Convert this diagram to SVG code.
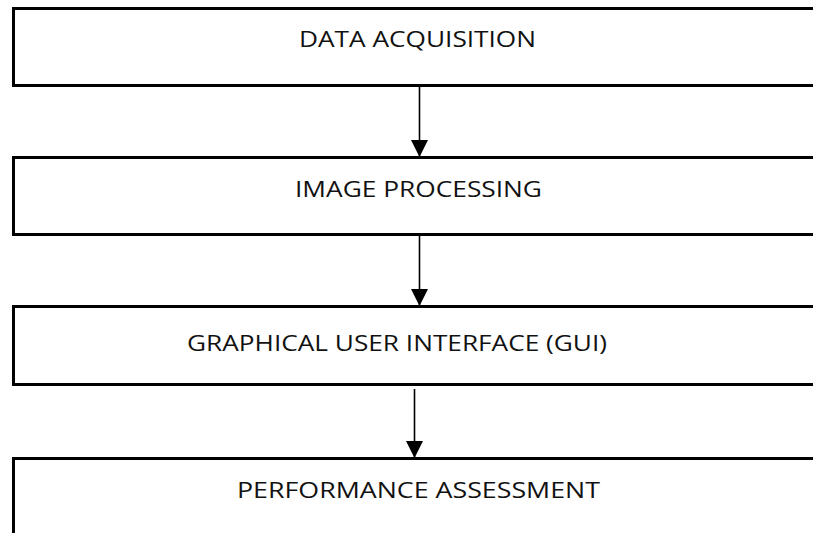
<svg xmlns="http://www.w3.org/2000/svg" width="813" height="533" viewBox="0 0 813 533">
<style>
.box{fill:#fff;stroke:#000;stroke-width:3}
.lbl{font-family:"Open Sans","Liberation Sans",sans-serif;font-size:22px;fill:#111}
.conn{stroke:#000;stroke-width:1.6;fill:none}
</style>
<defs>
<marker id="ah" markerUnits="userSpaceOnUse" markerWidth="18" markerHeight="17" refX="17" refY="8.5" orient="auto">
<path d="M0,0 L17,8.5 L0,17 Z" fill="#000"/>
</marker>
</defs>
<rect width="813" height="533" fill="#fff"/>
<g id="n1"><rect class="box" x="13.5" y="8.5" width="820" height="77"/><text class="lbl" x="299" y="47" textLength="237" lengthAdjust="spacingAndGlyphs">DATA ACQUISITION</text></g>
<g id="n2"><rect class="box" x="13.5" y="157.5" width="820" height="77"/><text class="lbl" x="295" y="197" textLength="247" lengthAdjust="spacingAndGlyphs">IMAGE PROCESSING</text></g>
<g id="n3"><rect class="box" x="13.5" y="306.5" width="820" height="78"/><text class="lbl" x="187" y="351" textLength="420" lengthAdjust="spacingAndGlyphs">GRAPHICAL USER INTERFACE (GUI)</text></g>
<g id="n4"><rect class="box" x="13.5" y="458.5" width="820" height="100"/><text class="lbl" x="237" y="498" textLength="363" lengthAdjust="spacingAndGlyphs">PERFORMANCE ASSESSMENT</text></g>
<g id="connectors">
<line class="conn" x1="419.5" y1="87" x2="419.5" y2="157" marker-end="url(#ah)"/>
<line class="conn" x1="419.5" y1="236" x2="419.5" y2="306" marker-end="url(#ah)"/>
<line class="conn" x1="414.5" y1="389" x2="414.5" y2="458" marker-end="url(#ah)"/>
</g>
</svg>
